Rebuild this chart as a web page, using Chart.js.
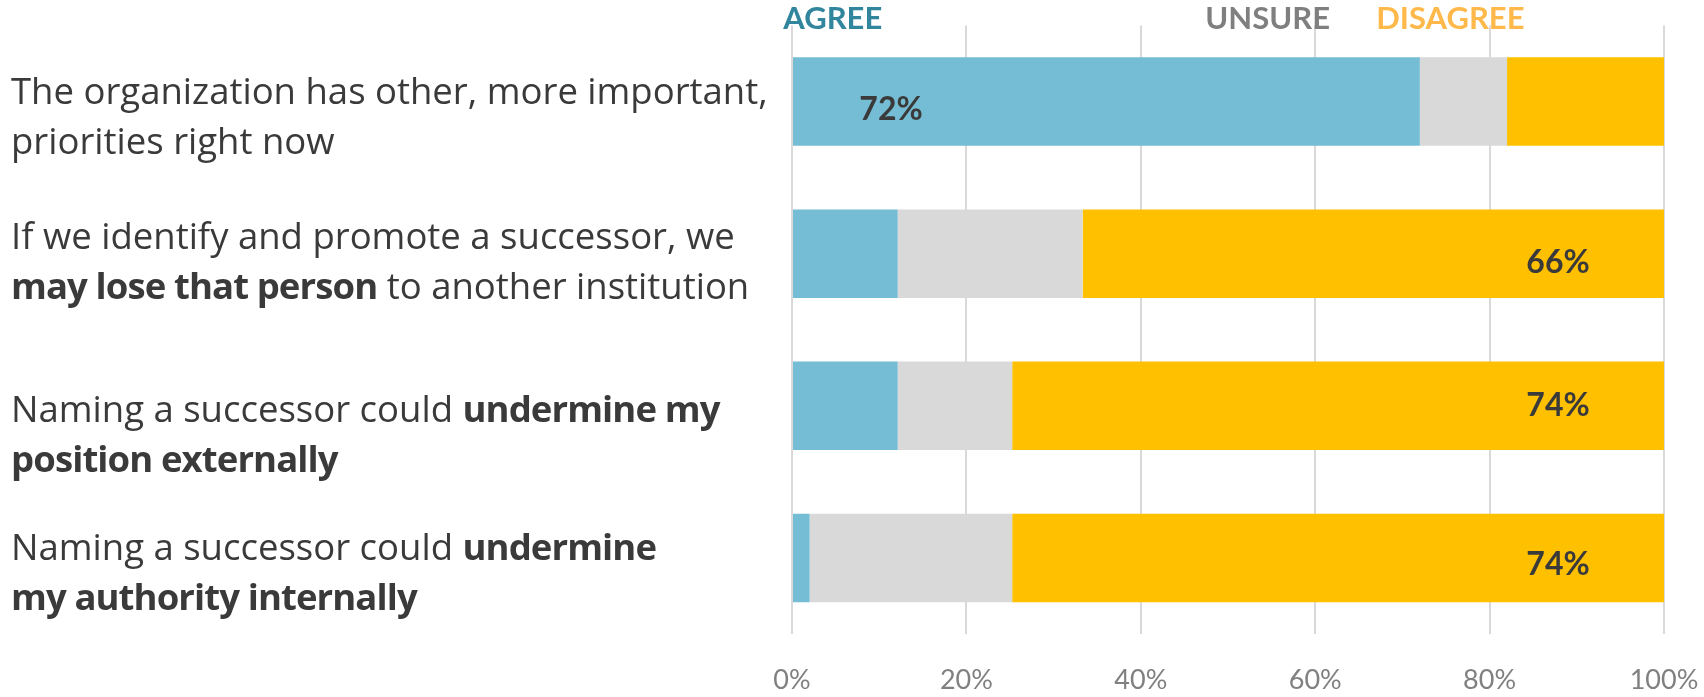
<!DOCTYPE html>
<html>
<head>
<meta charset="utf-8">
<script src="https://cdn.jsdelivr.net/npm/chart.js@4/dist/chart.umd.min.js"></script>
<style>
  html, body { margin: 0; padding: 0; background: #ffffff; }
  #wrap { width: 1704px; height: 697px; position: relative; }
  canvas { display: block; }
</style>
</head>
<body>
<div id="wrap"><canvas id="chart" width="1704" height="697"></canvas></div>
<script>
// Statements, one entry per bar; each entry is a list of lines, **text** is set in bold.
const categories = [
  ["The organization has other, more important,", "priorities right now"],
  ["If we identify and promote a successor, we", "**may lose that person** to another institution"],
  ["Naming a successor could **undermine my**", "**position externally**"],
  ["Naming a successor could **undermine**", "**my authority internally**"]
];
const seriesNames = ["AGREE", "UNSURE", "DISAGREE"];
// Survey answers in percent of respondents (rows do not always total exactly 100)
const agree = [72, 12, 12, 2];
const unsure = [10, 21, 13, 23];
const disagree = [18, 66, 74, 74];
const tickValues = [0, 20, 40, 60, 80, 100];

// Styling
const LABEL_FONT = '"Open Sans", "Noto Sans", sans-serif';
const FONT = 'Lato, "Open Sans", sans-serif';
const barColors = ['#75BDD4', '#D9D9D9', '#FFC000'];
const headerColors = ['#31869D', '#7F7F7F', '#FFB84A'];
const textColor = '#3A3A3A';
const headerAnchor = [-1.0, 47.4, 67.0];        // left edge of each header, in axis units
const labelBaseline = [2, -5, 16, 2];           // first-line baseline relative to bar centre
const valueShift = [8, 9, 0, 7];                // vertical nudge of the in-bar values
const LINE_GAP = 50;
const LABEL_SIZE = 36.5;

// 100% stacked: each answer as a share of its row total
const totals = agree.map((a, i) => a + unsure[i] + disagree[i]);
const share = arr => arr.map((v, i) => v / totals[i] * 100);

function drawRich(ctx, line, x, y, size) {
  const parts = line.split('**');
  let cx = x;
  parts.forEach((part, i) => {
    if (!part) return;
    const bold = i % 2 === 1;
    ctx.font = (bold ? '700 ' : '400 ') + size + 'px ' + LABEL_FONT;
    if ('letterSpacing' in ctx) ctx.letterSpacing = bold ? '-0.9px' : '0px';
    ctx.fillText(part, cx, y);
    cx += ctx.measureText(part).width;
  });
  if ('letterSpacing' in ctx) ctx.letterSpacing = '0px';
}

const annotate = {
  id: 'annotate',
  afterDraw(chart) {
    const ctx = chart.ctx;
    const xs = chart.scales.x;
    ctx.save();

    // Series headers above the plot
    ctx.textBaseline = 'alphabetic';
    ctx.textAlign = 'left';
    ctx.font = '700 31px ' + FONT;
    seriesNames.forEach((name, i) => {
      ctx.fillStyle = headerColors[i];
      ctx.fillText(name, xs.getPixelForValue(headerAnchor[i]), 28.5);
    });

    // Statement labels on the left
    const metaA = chart.getDatasetMeta(0);
    ctx.fillStyle = textColor;
    categories.forEach((lines, i) => {
      const yc = metaA.data[i].y;
      lines.forEach((line, j) => {
        drawRich(ctx, line, 11, yc + labelBaseline[i] + j * LINE_GAP, LABEL_SIZE);
      });
    });

    // Majority answer written inside its bar
    const raw = [agree, unsure, disagree];
    ctx.font = '700 32px ' + FONT;
    ctx.textAlign = 'center';
    ctx.textBaseline = 'middle';
    ctx.fillStyle = textColor;
    raw.forEach((vals, d) => {
      const meta = chart.getDatasetMeta(d);
      vals.forEach((v, i) => {
        if (v < 50) return;
        const bar = meta.data[i];
        const x = d === 0 ? bar.base + 98 : bar.x - 106;
        ctx.fillText(v + '%', x, bar.y + valueShift[i]);
      });
    });
    ctx.restore();
  }
};

function build() {
  new Chart(document.getElementById('chart'), {
    type: 'bar',
    data: {
      labels: categories.map(l => l.join(' ').replace(/\*\*/g, '')),
      datasets: [
        { label: seriesNames[0], data: share(agree), backgroundColor: barColors[0] },
        { label: seriesNames[1], data: share(unsure), backgroundColor: barColors[1] },
        { label: seriesNames[2], data: share(disagree), backgroundColor: barColors[2] }
      ]
    },
    options: {
      indexAxis: 'y',
      responsive: false,
      animation: false,
      devicePixelRatio: 1,
      layout: { padding: { left: 792, right: 40, top: 25.5, bottom: 0 } },
      datasets: { bar: { barPercentage: 0.582, categoryPercentage: 1, borderWidth: 0 } },
      plugins: { legend: { display: false }, tooltip: { enabled: false } },
      scales: {
        x: {
          stacked: true,
          min: 0,
          max: 100,
          afterBuildTicks: axis => { axis.ticks = tickValues.map(v => ({ value: v })); },
          ticks: {
            callback: v => v + '%',
            color: '#808080',
            font: { family: FONT, size: 27, lineHeight: 1 },
            padding: 3,
            maxRotation: 0
          },
          grid: { color: '#D9D9D9', lineWidth: 2, drawTicks: true, tickLength: 30, tickColor: 'rgba(0,0,0,0)' },
          border: { display: false }
        },
        y: { stacked: true, display: false }
      }
    },
    plugins: [annotate]
  });
}

const fontsReady = document.fonts
  ? Promise.all(['400 36px "Open Sans"', '700 36px "Open Sans"', '400 31px Lato', '700 31px Lato']
      .map(f => document.fonts.load(f))).catch(() => {})
  : Promise.resolve();
fontsReady.then(build, build);
</script>
</body>
</html>
